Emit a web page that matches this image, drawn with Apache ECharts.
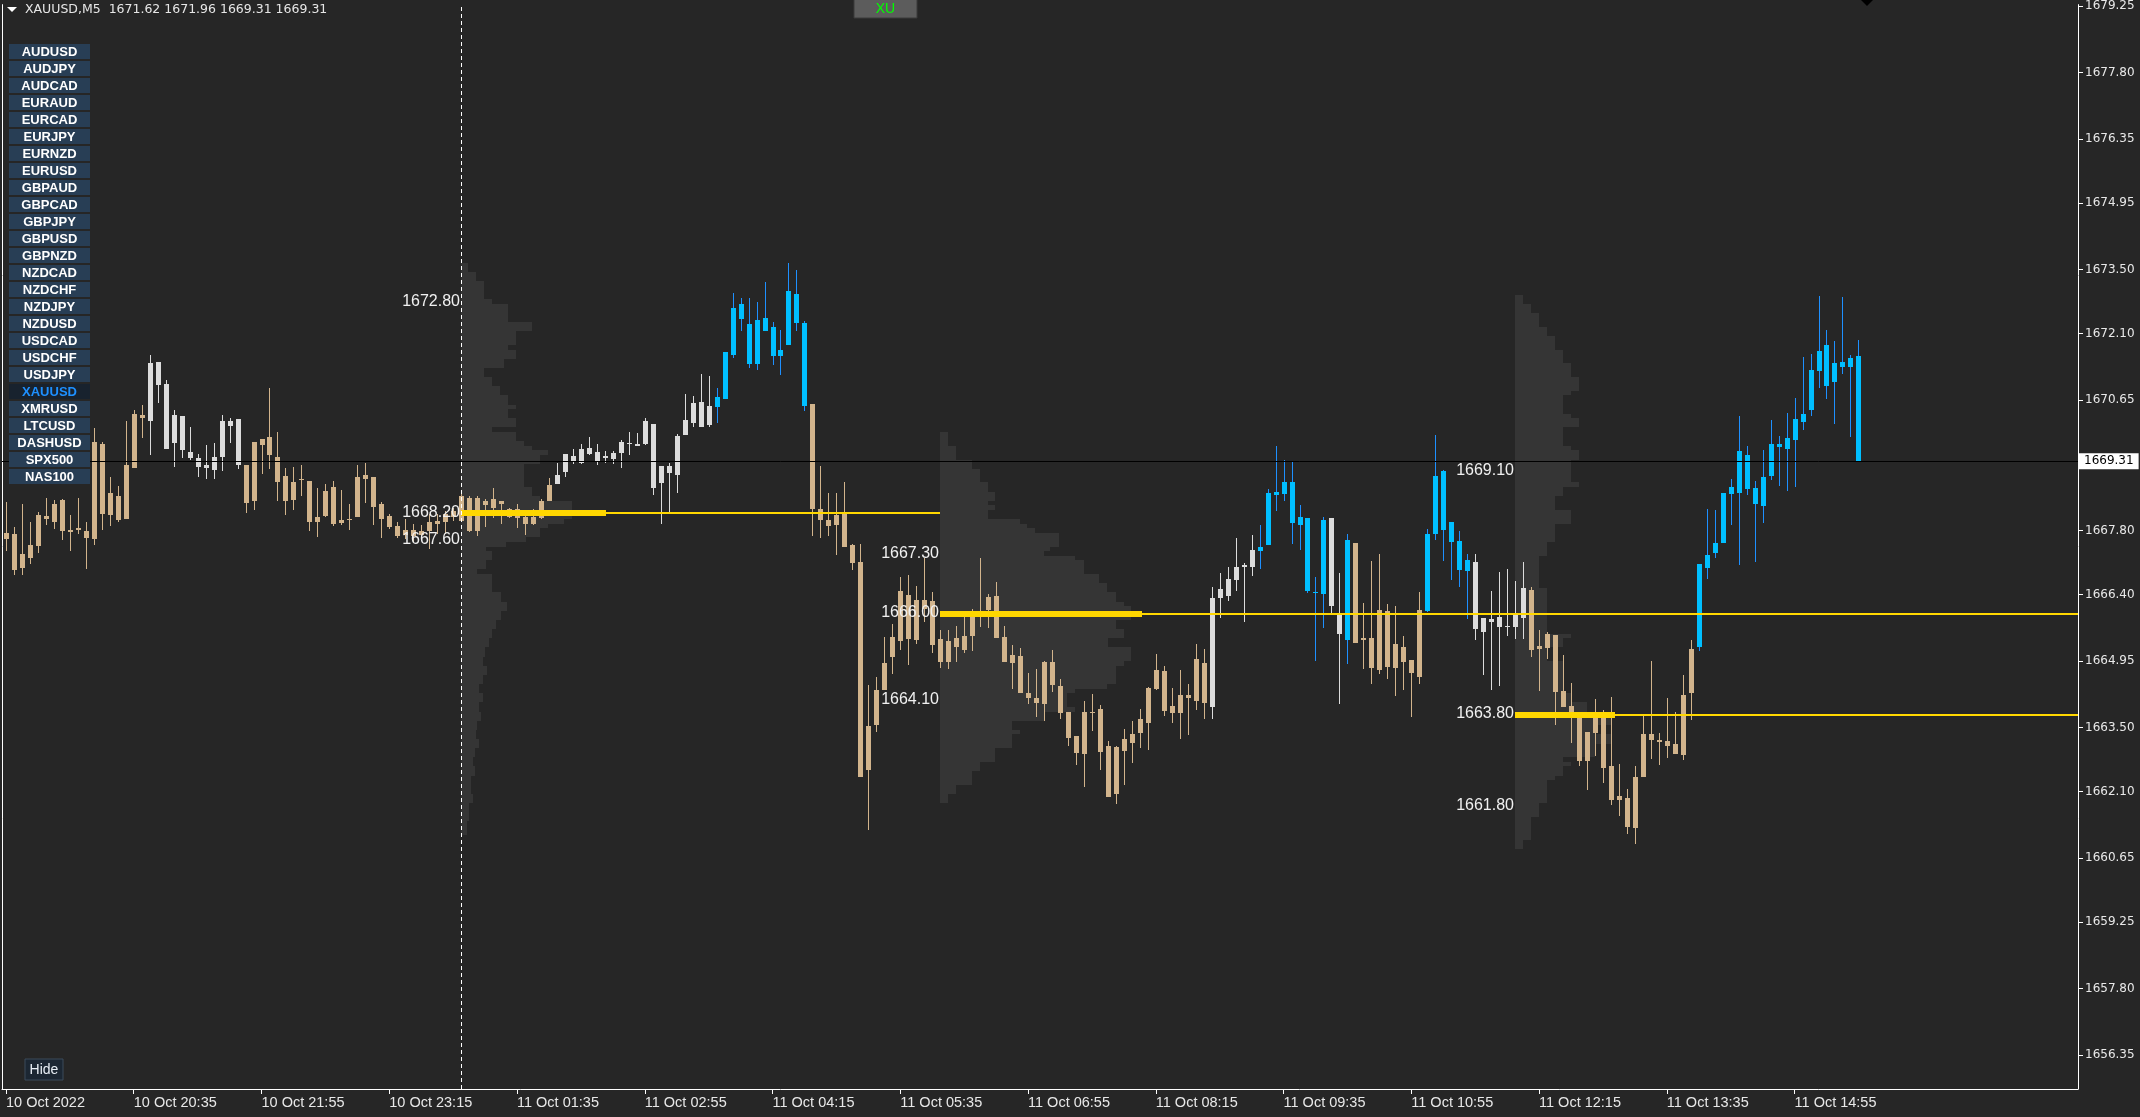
<!DOCTYPE html>
<html>
<head>
<meta charset="utf-8">
<title>XAUUSD,M5</title>
<script src="https://cdn.jsdelivr.net/npm/echarts@6/dist/echarts.min.js"></script>
<style>
    html, body { margin: 0; padding: 0; background: #262626; }
    #chart { width: 2140px; height: 1117px; }
</style>
</head>
<body>
<div id="chart"></div>
<script>
// 品种 / 周期
var symbol = 'XAUUSD'
var period = 'M5'

// K线数据
var opens = [
    1667.61, 1667.72, 1666.98, 1667.20, 1667.46, 1668.11, 1667.98, 1668.46, 1667.77, 1667.81,
    1667.64, 1667.61, 1669.69, 1668.14, 1668.56, 1668.05, 1669.16, 1670.33, 1670.19, 1671.48,
    1671.00, 1669.72, 1670.30, 1669.52, 1669.39, 1669.16, 1669.13, 1669.40, 1670.19, 1670.24,
    1669.24, 1668.44, 1669.66, 1669.85, 1669.41, 1668.98, 1668.46, 1668.90, 1668.89, 1667.98,
    1668.12, 1668.74, 1667.96, 1668.03, 1668.09, 1668.92, 1668.96, 1668.39, 1668.12, 1667.89,
    1667.70, 1667.82, 1667.70, 1667.80, 1667.95, 1667.98, 1668.10, 1668.01, 1668.50, 1667.78,
    1668.44, 1668.30, 1668.44, 1668.27, 1668.08, 1668.10, 1667.94, 1668.07, 1668.44, 1668.81,
    1669.07, 1669.30, 1669.27, 1669.60, 1669.51, 1669.39, 1669.36, 1669.49, 1669.72, 1669.64,
    1669.70, 1670.13, 1668.83, 1669.20, 1669.01, 1669.88, 1670.15, 1670.61, 1670.11, 1670.49,
    1670.68, 1671.64, 1672.74, 1672.30, 1671.44, 1672.43, 1672.24, 1671.62, 1671.86, 1672.96,
    1672.33, 1670.57, 1668.28, 1668.02, 1667.92, 1668.20, 1667.48, 1667.11, 1662.57, 1663.55,
    1664.31, 1665.03, 1665.38, 1666.39, 1665.42, 1666.09, 1666.26, 1665.44, 1664.92, 1665.26,
    1665.20, 1665.49, 1665.96, 1666.06, 1666.37, 1665.48, 1665.09, 1665.07, 1664.26, 1664.03,
    1664.01, 1664.92, 1664.41, 1663.83, 1663.31, 1662.92, 1663.83, 1663.91, 1663.09, 1662.05,
    1662.98, 1663.16, 1663.38, 1663.59, 1664.35, 1664.74, 1663.81, 1663.81, 1664.20, 1664.07,
    1664.91, 1663.94, 1666.33, 1666.38, 1666.72, 1667.01, 1667.01, 1667.35, 1667.49, 1668.57,
    1668.59, 1668.85, 1667.92, 1668.07, 1666.46, 1666.42, 1668.07, 1666.01, 1665.42, 1667.52,
    1665.40, 1665.46, 1664.75, 1666.04, 1664.79, 1665.26, 1664.98, 1664.61, 1666.04, 1667.72,
    1669.11, 1667.98, 1667.57, 1666.92, 1667.11, 1665.59, 1665.87, 1665.70, 1665.72, 1665.70,
    1665.89, 1666.50, 1665.22, 1665.24, 1665.52, 1664.30, 1663.98, 1663.80, 1662.76, 1663.38,
    1663.80, 1662.65, 1661.92, 1661.96, 1661.31, 1662.42, 1663.35, 1663.22, 1663.20, 1663.13,
    1662.89, 1664.25, 1665.26, 1666.99, 1667.31, 1667.53, 1668.59, 1668.62, 1669.46, 1668.72,
    1668.33, 1668.99, 1669.70, 1669.57, 1669.77, 1670.18, 1670.44, 1671.29, 1671.85, 1671.05,
    1671.38, 1671.38, 1671.62
]
var highs = [
    1668.43, 1667.87, 1668.38, 1667.99, 1668.21, 1668.52, 1668.46, 1668.48, 1668.15, 1668.51,
    1667.98, 1670.04, 1669.74, 1668.96, 1668.77, 1670.19, 1670.43, 1670.53, 1671.63, 1671.48,
    1671.09, 1670.43, 1670.30, 1670.06, 1669.48, 1669.67, 1669.72, 1670.32, 1670.26, 1670.24,
    1669.24, 1669.74, 1669.80, 1670.91, 1669.96, 1669.17, 1669.19, 1669.24, 1668.89, 1668.72,
    1668.82, 1668.89, 1668.69, 1668.37, 1669.22, 1669.28, 1668.96, 1668.43, 1668.16, 1667.98,
    1668.06, 1667.95, 1667.92, 1668.16, 1668.16, 1668.23, 1668.30, 1668.59, 1668.56, 1668.56,
    1668.49, 1668.72, 1668.45, 1668.30, 1668.38, 1668.16, 1668.27, 1668.49, 1668.95, 1669.28,
    1669.48, 1669.57, 1669.70, 1669.85, 1669.70, 1669.54, 1669.54, 1669.78, 1669.95, 1669.93,
    1670.26, 1670.13, 1669.20, 1669.27, 1669.91, 1670.78, 1670.73, 1671.22, 1671.17, 1670.91,
    1671.70, 1672.98, 1672.87, 1672.87, 1672.78, 1673.23, 1672.36, 1672.17, 1673.63, 1673.48,
    1672.37, 1670.57, 1669.20, 1668.61, 1668.61, 1668.86, 1667.50, 1667.50, 1664.43, 1664.60,
    1665.48, 1665.75, 1666.78, 1666.82, 1666.58, 1667.20, 1666.46, 1665.62, 1665.63, 1665.72,
    1665.95, 1666.09, 1667.20, 1666.41, 1666.67, 1665.72, 1665.31, 1665.24, 1664.68, 1664.78,
    1664.96, 1665.20, 1664.57, 1663.83, 1663.31, 1664.07, 1664.23, 1664.00, 1663.20, 1663.09,
    1663.47, 1663.65, 1663.91, 1664.39, 1665.11, 1664.85, 1664.36, 1664.76, 1664.46, 1665.33,
    1665.22, 1666.57, 1666.88, 1667.01, 1667.63, 1667.09, 1667.70, 1667.93, 1668.70, 1669.65,
    1669.33, 1669.30, 1668.35, 1668.07, 1666.78, 1668.09, 1668.07, 1666.87, 1667.72, 1667.52,
    1666.22, 1667.13, 1667.28, 1666.20, 1666.15, 1665.50, 1664.98, 1666.46, 1667.83, 1669.89,
    1669.13, 1667.98, 1667.78, 1667.28, 1667.28, 1665.89, 1666.48, 1666.89, 1666.96, 1666.70,
    1667.11, 1666.57, 1665.62, 1665.59, 1665.52, 1665.09, 1664.48, 1663.80, 1663.41, 1664.13,
    1663.89, 1664.16, 1662.70, 1662.16, 1662.67, 1663.79, 1664.96, 1663.37, 1664.14, 1663.85,
    1664.65, 1665.41, 1667.07, 1668.28, 1668.24, 1668.63, 1668.93, 1670.30, 1669.65, 1668.89,
    1669.56, 1670.22, 1669.87, 1670.37, 1670.70, 1671.59, 1671.65, 1672.91, 1672.17, 1671.93,
    1672.89, 1671.63, 1671.96
]
var lows = [
    1667.36, 1666.82, 1666.84, 1667.07, 1667.32, 1667.92, 1667.83, 1667.60, 1667.36, 1667.73,
    1666.96, 1667.49, 1667.81, 1667.90, 1667.98, 1668.05, 1669.16, 1669.81, 1669.44, 1670.59,
    1669.59, 1669.18, 1669.38, 1669.34, 1668.96, 1668.92, 1668.93, 1669.11, 1669.71, 1669.15,
    1668.18, 1668.25, 1669.03, 1669.14, 1668.44, 1668.14, 1668.24, 1668.56, 1667.80, 1667.66,
    1668.10, 1667.90, 1667.92, 1667.81, 1668.09, 1668.41, 1667.93, 1667.64, 1667.84, 1667.63,
    1667.61, 1667.55, 1667.62, 1667.40, 1667.73, 1667.73, 1668.00, 1667.98, 1667.76, 1667.69,
    1667.87, 1668.07, 1667.94, 1668.07, 1667.85, 1667.70, 1667.92, 1668.05, 1668.44, 1668.81,
    1668.96, 1669.25, 1669.25, 1669.46, 1669.23, 1669.27, 1669.25, 1669.16, 1669.44, 1669.64,
    1669.66, 1668.57, 1667.94, 1668.16, 1668.62, 1669.88, 1670.07, 1670.07, 1670.06, 1670.14,
    1670.68, 1671.57, 1672.16, 1671.35, 1671.31, 1672.16, 1671.42, 1671.20, 1671.86, 1672.16,
    1670.42, 1667.69, 1667.63, 1667.69, 1667.27, 1667.43, 1666.94, 1662.42, 1661.27, 1663.40,
    1664.31, 1664.67, 1665.20, 1664.86, 1665.33, 1665.80, 1665.12, 1664.81, 1664.77, 1664.93,
    1665.12, 1665.18, 1665.70, 1665.68, 1665.46, 1664.92, 1664.34, 1664.25, 1664.01, 1663.72,
    1663.65, 1664.28, 1663.68, 1663.09, 1662.69, 1662.20, 1663.43, 1662.57, 1661.99, 1661.84,
    1662.24, 1662.72, 1663.05, 1663.01, 1664.31, 1663.75, 1663.59, 1663.26, 1663.34, 1663.88,
    1663.68, 1663.68, 1665.90, 1666.27, 1666.48, 1665.81, 1666.81, 1666.96, 1667.49, 1668.22,
    1668.44, 1667.51, 1667.38, 1666.44, 1664.96, 1665.68, 1666.00, 1664.01, 1664.88, 1665.35,
    1664.77, 1664.46, 1664.66, 1664.57, 1664.18, 1664.31, 1663.73, 1664.46, 1666.02, 1667.59,
    1667.13, 1666.72, 1666.57, 1665.87, 1665.40, 1664.64, 1664.31, 1664.40, 1665.50, 1665.44,
    1665.44, 1665.04, 1664.29, 1665.00, 1663.55, 1663.94, 1663.16, 1662.66, 1662.14, 1662.87,
    1662.29, 1661.81, 1661.57, 1661.18, 1660.96, 1662.42, 1662.81, 1662.68, 1662.83, 1662.92,
    1662.79, 1663.66, 1665.18, 1666.75, 1667.20, 1667.53, 1667.92, 1667.05, 1668.57, 1667.11,
    1667.96, 1668.90, 1668.77, 1668.66, 1668.75, 1669.99, 1670.29, 1670.92, 1670.68, 1670.12,
    1671.22, 1669.85, 1669.31
]
var closes = [
    1667.74, 1666.93, 1667.28, 1667.48, 1668.13, 1668.05, 1668.37, 1667.78, 1667.82, 1667.85,
    1667.78, 1669.74, 1668.17, 1668.63, 1668.03, 1669.22, 1670.35, 1670.25, 1671.46, 1670.98,
    1669.59, 1670.32, 1669.56, 1669.39, 1669.18, 1669.24, 1669.41, 1670.19, 1670.09, 1669.23,
    1668.41, 1669.74, 1669.80, 1669.46, 1668.85, 1668.44, 1668.85, 1668.93, 1667.98, 1668.09,
    1668.67, 1667.95, 1668.02, 1668.06, 1668.96, 1669.02, 1668.32, 1668.06, 1667.87, 1667.69,
    1667.81, 1667.69, 1667.80, 1667.98, 1668.01, 1668.16, 1668.22, 1668.56, 1667.78, 1668.50,
    1668.36, 1668.49, 1668.38, 1668.09, 1668.27, 1667.94, 1668.09, 1668.44, 1668.80, 1669.01,
    1669.48, 1669.43, 1669.57, 1669.48, 1669.30, 1669.43, 1669.50, 1669.73, 1669.70, 1669.70,
    1670.19, 1668.72, 1669.20, 1669.05, 1669.87, 1670.22, 1670.59, 1670.07, 1670.52, 1670.72,
    1671.70, 1672.65, 1672.42, 1671.44, 1672.39, 1672.16, 1671.62, 1671.74, 1673.02, 1672.33,
    1670.51, 1668.27, 1668.03, 1667.90, 1668.15, 1667.43, 1667.09, 1662.42, 1663.54, 1664.31,
    1664.91, 1665.48, 1666.49, 1665.44, 1666.28, 1666.28, 1665.31, 1664.92, 1665.39, 1665.46,
    1665.50, 1665.96, 1666.04, 1666.35, 1665.46, 1664.92, 1664.90, 1664.25, 1664.14, 1664.15,
    1664.94, 1664.43, 1663.81, 1663.27, 1662.94, 1663.83, 1663.81, 1662.96, 1661.99, 1663.07,
    1663.26, 1663.35, 1663.68, 1664.37, 1664.76, 1663.87, 1663.98, 1664.20, 1664.14, 1665.00,
    1664.03, 1666.33, 1666.52, 1666.74, 1667.00, 1667.05, 1667.37, 1667.43, 1668.63, 1668.65,
    1668.85, 1667.96, 1668.09, 1666.48, 1666.44, 1668.04, 1666.15, 1665.55, 1667.59, 1665.35,
    1665.46, 1664.81, 1666.07, 1664.83, 1665.33, 1664.94, 1664.68, 1666.07, 1667.72, 1669.00,
    1667.81, 1667.55, 1666.94, 1667.15, 1665.65, 1665.89, 1665.81, 1665.91, 1665.70, 1665.96,
    1666.54, 1665.20, 1665.28, 1665.54, 1664.27, 1663.94, 1663.70, 1662.78, 1663.41, 1663.80,
    1662.62, 1661.92, 1662.00, 1661.33, 1662.41, 1663.35, 1663.22, 1663.18, 1663.10, 1662.92,
    1664.22, 1665.22, 1667.07, 1667.26, 1667.52, 1668.63, 1668.76, 1669.54, 1668.70, 1668.38,
    1668.96, 1669.70, 1669.62, 1669.83, 1670.24, 1670.35, 1671.30, 1671.72, 1670.96, 1671.46,
    1671.48, 1671.57, 1669.31
]
// K线颜色状态 (连续段: 根数, 状态)
var trendRuns = [
    [18, 'tan'], [12, 'white'], [39, 'tan'], [20, 'white'], [12, 'blue'], [50, 'tan'],
    [6, 'white'], [9, 'blue'], [2, 'white'], [1, 'blue'], [9, 'tan'], [6, 'blue'],
    [7, 'white'], [21, 'tan'], [21, 'blue']
]

// 时间轴
var barCount = 260
var xTickStep = 16
var xTickLabels = [
    '10 Oct 2022', '10 Oct 20:35', '10 Oct 21:55', '10 Oct 23:15', '11 Oct 01:35',
    '11 Oct 02:55', '11 Oct 04:15', '11 Oct 05:35', '11 Oct 06:55', '11 Oct 08:15',
    '11 Oct 09:35', '11 Oct 10:55', '11 Oct 12:15', '11 Oct 13:35', '11 Oct 14:55'
]
// 价格轴
var yMin = 1655.61
var yMax = 1679.28
var yTickValues = [
    1656.35, 1657.80, 1659.25, 1660.65, 1662.10, 1663.50, 1664.95, 1666.40, 1667.80,
    1669.25, 1670.65, 1672.10, 1673.50, 1674.95, 1676.35, 1677.80, 1679.25
]

// 成交量分布 (每档 0.1)
var binSize = 0.1
var profile1Volumes = [
    7, 7, 15, 15, 23, 23, 23, 23, 31, 47,
    47, 47, 47, 71, 71, 55, 55, 55, 47, 55,
    55, 43, 43, 23, 23, 31, 31, 39, 39, 47,
    47, 55, 47, 47, 55, 55, 31, 55, 55, 63,
    71, 87, 79, 79, 63, 63, 63, 63, 63, 71,
    71, 79, 111, 111, 145, 111, 103, 87, 79, 79,
    65, 45, 25, 31, 31, 25, 25, 16, 31, 31,
    31, 31, 40, 40, 46, 46, 40, 40, 35, 35,
    31, 31, 28, 28, 24, 24, 22, 22, 26, 26,
    22, 22, 18, 18, 22, 22, 18, 18, 20, 20,
    16, 16, 15, 15, 18, 18, 14, 14, 12, 12,
    14, 14, 10, 10, 10, 10, 12, 12, 8, 8,
    8, 8, 6, 6, 6
]
var profile2Volumes = [
    8, 8, 8, 16, 16, 16, 32, 32, 40, 40,
    40, 48, 48, 55, 55, 48, 55, 48, 48, 80,
    87, 95, 119, 119, 119, 110, 104, 135, 144, 144,
    144, 159, 159, 167, 167, 176, 176, 184, 191, 202,
    191, 176, 176, 184, 184, 168, 168, 191, 191, 191,
    184, 176, 176, 176, 176, 167, 135, 127, 127, 127,
    135, 104, 104, 72, 72, 80, 72, 72, 72, 55,
    55, 55, 40, 40, 32, 32, 32, 16, 16, 8,
    8
]
var profile3Volumes = [
    8, 8, 16, 16, 24, 24, 24, 32, 32, 40,
    40, 40, 48, 48, 48, 56, 56, 56, 64, 64,
    64, 56, 48, 48, 48, 48, 56, 64, 64, 48,
    48, 48, 48, 56, 64, 64, 56, 56, 56, 56,
    56, 64, 48, 48, 40, 40, 40, 56, 56, 56,
    40, 40, 40, 40, 32, 32, 32, 24, 24, 24,
    24, 24, 24, 24, 32, 32, 32, 32, 32, 32,
    32, 32, 32, 32, 56, 48, 48, 32, 32, 32,
    48, 48, 48, 48, 48, 48, 48, 56, 56, 72,
    72, 100, 97, 97, 80, 80, 96, 96, 80, 80,
    80, 48, 56, 48, 48, 40, 32, 32, 32, 32,
    32, 24, 24, 24, 16, 16, 16, 16, 16, 8,
    8
]
var profileStarts = [57, 117, 189]
var profileTops = [1673.6, 1669.9, 1672.9]
var profilePoc = [1668.20, 1666.00, 1663.80]
var profileVah = [1672.80, 1667.30, 1669.10]
var profileVal = [1667.60, 1664.10, 1661.80]
var profileLineEnd = [117, null, null] // null = 到右边
var profileVolumes = [profile1Volumes, profile2Volumes, profile3Volumes]

var symbols = [
    'AUDUSD', 'AUDJPY', 'AUDCAD', 'EURAUD', 'EURCAD', 'EURJPY', 'EURNZD', 'EURUSD', 'GBPAUD',
    'GBPCAD', 'GBPJPY', 'GBPUSD', 'GBPNZD', 'NZDCAD', 'NZDCHF', 'NZDJPY', 'NZDUSD', 'USDCAD',
    'USDCHF', 'USDJPY', 'XAUUSD', 'XMRUSD', 'LTCUSD', 'DASHUSD', 'SPX500', 'NAS100'
]

var candleColors = {
    tan: { body: '#D2B48C', wick: '#D2B48C' },
    white: { body: '#DCDCDC', wick: '#DCDCDC' },
    blue: { body: '#00BFFF', wick: '#1E90FF' },
}

// ---- 构建 ----
var categories = []
var t = Date.UTC(2022, 9, 10, 19, 15)
for (var i = 0; i < barCount; i++) {
    var d = new Date(t)
    categories.push(d.toISOString().slice(0, 16).replace('T', ' '))
    t += 5 * 60000
    if (new Date(t).getUTCHours() === 0) t += 3600000 // 每日休市 00:00-01:00
}

var trendOf = []
trendRuns.forEach(function (r) {
    for (var k = 0; k < r[0]; k++) trendOf.push(r[1])
})

var candleData = opens.map(function (o, i) {
    return [i, o, closes[i], lows[i], highs[i]]
})

var profileData = []
profileVolumes.forEach(function (vols, k) {
    vols.forEach(function (v, j) {
        profileData.push([profileStarts[k], +(profileTops[k] - j * binSize).toFixed(1), v])
    })
})
var pocData = profileStarts.map(function (s, k) {
    return [s, profilePoc[k], Math.max.apply(null, profileVolumes[k])]
})

var last = opens.length - 1
var headerText = symbol + ',' + period + '  ' + opens[last].toFixed(2) + ' ' + highs[last].toFixed(2) +
    ' ' + lows[last].toFixed(2) + ' ' + closes[last].toFixed(2)

function showTick(idx) {
    return idx % xTickStep === 0 && idx / xTickStep < xTickLabels.length
}

function renderProfileBin(params, api) {
    var start = api.value(0), price = api.value(1), vol = api.value(2)
    var p0 = api.coord([start, price + binSize / 2])
    var p1 = api.coord([start, price - binSize / 2])
    var band = api.size([1, 0])[0]
    var y0 = Math.round(p0[1]), y1 = Math.round(p1[1])
    return {
        type: 'rect',
        shape: { x: Math.round(p0[0]), y: y0, width: Math.round(vol * band / 8), height: y1 - y0 },
        style: { fill: '#353535' },
    }
}

function renderCandle(params, api) {
    var i = api.value(0)
    var o = api.coord([i, api.value(1)])
    var c = api.coord([i, api.value(2)])
    var l = api.coord([i, api.value(3)])
    var h = api.coord([i, api.value(4)])
    var col = candleColors[trendOf[i]] || candleColors.tan
    var cx = Math.round(o[0])
    var top = Math.round(Math.min(o[1], c[1]))
    var bot = Math.round(Math.max(o[1], c[1]))
    if (bot - top < 1) bot = top + 1
    var hy = Math.round(h[1]), ly = Math.round(l[1])
    return {
        type: 'group',
        children: [
            { type: 'rect', shape: { x: cx, y: hy, width: 1, height: Math.max(1, ly - hy) }, style: { fill: col.wick } },
            { type: 'rect', shape: { x: cx - 2, y: top, width: 5, height: bot - top }, style: { fill: col.body } },
        ],
    }
}

var labelFont = '16px "Liberation Sans", Arial, sans-serif'
function renderPoc(params, api) {
    var k = params.dataIndex
    var start = api.value(0), poc = api.value(1), vol = api.value(2)
    var a = api.coord([start, poc])
    var band = api.size([1, 0])[0]
    var xs = Math.round(a[0]), y = Math.round(a[1])
    var thickEnd = xs + Math.round(vol * band / 8)
    var endX = profileLineEnd[k] != null
        ? Math.round(api.coord([profileLineEnd[k], poc])[0])
        : params.coordSys.x + params.coordSys.width
    var vah = api.coord([start, profileVah[k]])
    var val = api.coord([start, profileVal[k]])
    function txt(v, yy) {
        return {
            type: 'text',
            style: { text: v.toFixed(2), x: xs - 1, y: yy, align: 'right', verticalAlign: 'middle', fill: '#f0f0f0', font: labelFont },
        }
    }
    return {
        type: 'group',
        children: [
            { type: 'rect', shape: { x: thickEnd, y: y, width: Math.max(0, endX - thickEnd), height: 2 }, style: { fill: '#FFD700' } },
            { type: 'rect', shape: { x: xs, y: y - 2, width: thickEnd - xs, height: 6 }, style: { fill: '#FFD700' } },
            txt(profileVah[k], vah[1]),
            txt(poc, a[1]),
            txt(profileVal[k], val[1]),
        ],
    }
}

// 左侧品种按钮 (盖在图上面)
var topZ = 100
var buttons = []
symbols.forEach(function (s, k) {
    var on = s === symbol
    var y = 44 + k * 17
    buttons.push({
        type: 'rect', z: topZ,
        shape: { x: 9, y: y, width: 81, height: 15 },
        style: { fill: on ? '#18222e' : '#283e55' },
    })
    buttons.push({
        type: 'text', z: topZ + 1, x: 49.5, y: y + 8,
        style: { text: s, fill: on ? '#1e90ff' : '#ffffff', font: 'bold 13px "Liberation Sans", Arial, sans-serif', align: 'center', verticalAlign: 'middle' },
    })
})

var chart = echarts.init(document.getElementById('chart'))
var option = {
    animation: false,
    backgroundColor: '#262626',
    textStyle: { fontFamily: '"Liberation Sans", Arial, sans-serif' },
    grid: { left: 2, top: 0, width: 2076, height: 1089 },
    xAxis: {
        type: 'category',
        data: categories,
        boundaryGap: true,
        axisLine: { show: true, lineStyle: { color: '#ffffff', width: 1 } },
        axisTick: { show: true, alignWithLabel: true, interval: showTick, length: 5, lineStyle: { color: '#ffffff' } },
        axisLabel: {
            interval: showTick,
            formatter: function (v, idx) { return xTickLabels[idx / xTickStep] || '' },
            color: '#e8e8e8',
            fontSize: 14.5,
            fontFamily: '"Liberation Sans", Arial, sans-serif',
            align: 'left',
            margin: 6,
        },
        splitLine: { show: false },
    },
    yAxis: [
        {
            type: 'value',
            position: 'right',
            min: yMin,
            max: yMax,
            axisLine: { show: true, lineStyle: { color: '#ffffff', width: 1 } },
            axisTick: { show: true, length: 5, customValues: yTickValues, lineStyle: { color: '#ffffff' } },
            axisLabel: {
                customValues: yTickValues,
                formatter: function (v) { return v.toFixed(2) },
                color: '#e8e8e8',
                fontFamily: '"DejaVu Sans", sans-serif',
                fontSize: 12,
                margin: 7,
            },
            splitLine: { show: false },
        },
        {
            type: 'value',
            position: 'left',
            min: yMin,
            max: yMax,
            axisLine: { show: true, lineStyle: { color: '#ffffff', width: 1 } },
            axisTick: { show: false },
            axisLabel: { show: false },
            splitLine: { show: false },
        },
    ],
    series: [
        {
            name: 'profile',
            type: 'custom',
            z: 1,
            silent: true,
            renderItem: renderProfileBin,
            encode: { x: 0, y: 1 },
            data: profileData,
            markLine: {
                silent: true,
                symbol: 'none',
                label: { show: false },
                lineStyle: { color: '#ffffff', width: 1, type: [4, 3] },
                data: [{ xAxis: profileStarts[0] }],
            },
        },
        {
            name: 'candles',
            type: 'custom',
            z: 2,
            silent: true,
            renderItem: renderCandle,
            encode: { x: 0, y: [1, 2, 3, 4] },
            data: candleData,
        },
        {
            name: 'poc',
            type: 'custom',
            z: 4,
            silent: true,
            renderItem: renderPoc,
            encode: { x: 0, y: 1 },
            data: pocData,
            markLine: {
                silent: true,
                symbol: 'none',
                lineStyle: { color: '#000000', width: 1, type: 'solid' },
                label: {
                    show: true,
                    position: 'end',
                    distance: 1,
                    formatter: closes[last].toFixed(2),
                    backgroundColor: '#ffffff',
                    color: '#000000',
                    fontFamily: '"DejaVu Sans", sans-serif',
                    fontSize: 12,
                    padding: [2, 5, 2, 5],
                },
                data: [{ yAxis: closes[last] }],
            },
        },
    ],
    graphic: [
        { type: 'polygon', z: topZ, shape: { points: [[7, 7], [17, 7], [12, 12]] }, style: { fill: '#ffffff' } },
        {
            type: 'text', z: topZ, x: 25, y: 10,
            style: { text: headerText, font: '12.5px "DejaVu Sans", sans-serif', fill: '#e6e6e6', verticalAlign: 'middle' },
        },
        { type: 'group', z: topZ, children: buttons },
        { type: 'rect', z: topZ, shape: { x: 854, y: -1, width: 63, height: 19 }, style: { fill: '#5c5c5c', stroke: '#3a3a3a' } },
        { type: 'text', z: topZ + 1, x: 885.5, y: 9, style: { text: 'XU', fill: '#00ff00', font: '14px "Liberation Sans", Arial', align: 'center', verticalAlign: 'middle' } },
        { type: 'polygon', z: topZ, shape: { points: [[1861, 0], [1873, 0], [1867, 6]] }, style: { fill: '#000000' } },
        { type: 'rect', z: topZ, shape: { x: 25, y: 1059, width: 38, height: 21 }, style: { fill: '#1c2733', stroke: '#3b4b5b' } },
        { type: 'text', z: topZ + 1, x: 44, y: 1070, style: { text: 'Hide', fill: '#e8eef5', font: '14px "Liberation Sans", Arial', align: 'center', verticalAlign: 'middle' } },
    ],
}
option && chart.setOption(option)
</script>
</body>
</html>
